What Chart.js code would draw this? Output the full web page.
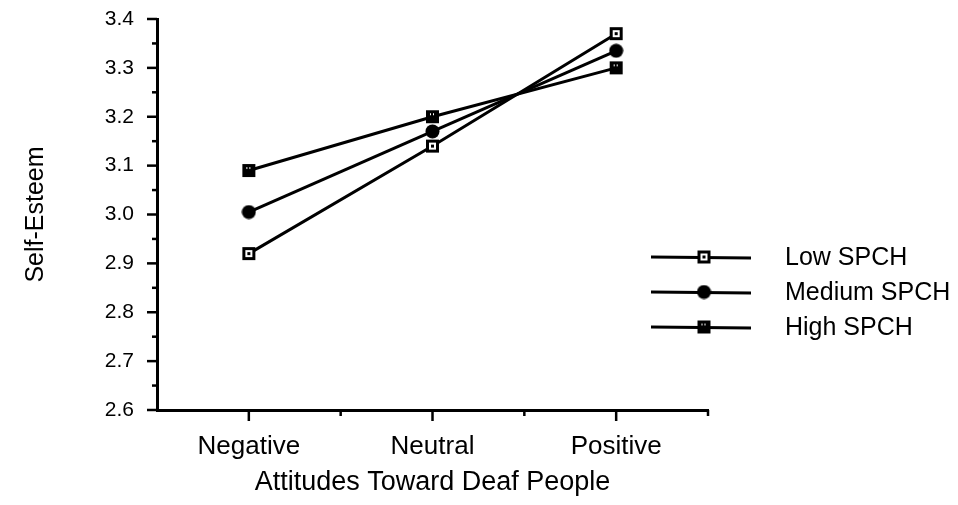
<!DOCTYPE html>
<html>
<head>
<meta charset="utf-8">
<script src="https://cdn.jsdelivr.net/npm/chart.js@4/dist/chart.umd.min.js"></script>
<style>
  html, body { margin: 0; padding: 0; background: #fff; }
  canvas { display: block; }
</style>
</head>
<body>
<canvas id="chart" width="958" height="505"></canvas>
<script>
// Category labels along the x axis
const categories = ['Negative', 'Neutral', 'Positive'];
// Series names
const seriesNames = ['Low SPCH', 'Medium SPCH', 'High SPCH'];
// Mean self-esteem per attitude group
const lowSpch = [2.92, 3.14, 3.37];
const mediumSpch = [3.005, 3.17, 3.335];
const highSpch = [3.09, 3.20, 3.30];
// Labelled y ticks
const yTickValues = [2.6, 2.7, 2.8, 2.9, 3.0, 3.1, 3.2, 3.3, 3.4];

const FONT = '"Liberation Sans", Arial, Helvetica, sans-serif';

// Small bitmap markers used as point styles
function makeMarker(kind) {
  const s = 15;
  const c = document.createElement('canvas');
  c.width = s; c.height = s;
  const g = c.getContext('2d');
  g.fillStyle = '#000';
  if (kind === 'open') {
    g.fillRect(1, 1, 13, 13);
    g.fillStyle = '#fff';
    g.fillRect(4, 4, 7, 7);
    g.fillStyle = '#000';
    g.fillRect(6, 6, 3, 3);
  } else if (kind === 'circle') {
    g.beginPath();
    g.arc(7.5, 7.5, 7, 0, Math.PI * 2);
    g.fill();
  } else {
    g.fillRect(1, 1, 13, 13);
    g.fillStyle = '#fff';
    g.fillRect(5, 4, 1, 2);
    g.fillRect(8, 4, 1, 2);
  }
  return c;
}

const markers = [makeMarker('open'), makeMarker('circle'), makeMarker('filled')];
const seriesValues = [lowSpch, mediumSpch, highSpch];

const datasets = seriesNames.map((name, i) => ({
  label: name,
  data: seriesValues[i],
  borderColor: '#000',
  backgroundColor: '#000',
  borderWidth: 3,
  pointStyle: markers[i],
  pointRadius: 7,
  tension: 0,
  fill: false
}));

// Tick marks on both axes: long at labelled positions, short in between
const axisTicks = {
  id: 'axisTicks',
  afterDraw(chart) {
    const ctx = chart.ctx;
    const xs = chart.scales.x, ys = chart.scales.y;
    const area = chart.chartArea;
    ctx.save();
    ctx.strokeStyle = '#000';
    ctx.lineWidth = 2.5;
    ctx.lineCap = 'butt';
    // y axis
    for (let k = 0; k <= 16; k++) {
      const v = 2.6 + k * 0.05;
      const y = ys.getPixelForValue(v);
      const len = (k % 2 === 0) ? 10 : 5;
      ctx.beginPath();
      ctx.moveTo(area.left - len, y);
      ctx.lineTo(area.left, y);
      ctx.stroke();
    }
    // x axis
    for (let i = 0; i < categories.length; i++) {
      const x = xs.getPixelForValue(i);
      ctx.beginPath();
      ctx.moveTo(x, area.bottom);
      ctx.lineTo(x, area.bottom + 11);
      ctx.stroke();
      if (i < categories.length - 1) {
        const xm = (x + xs.getPixelForValue(i + 1)) / 2;
        ctx.beginPath();
        ctx.moveTo(xm, area.bottom);
        ctx.lineTo(xm, area.bottom + 6);
        ctx.stroke();
      }
    }
    ctx.beginPath();
    ctx.moveTo(area.right, area.bottom);
    ctx.lineTo(area.right, area.bottom + 6);
    ctx.stroke();
    ctx.restore();
  }
};

// Legend to the right of the plot: line sample with marker, then the name
const sideLegend = {
  id: 'sideLegend',
  afterDraw(chart) {
    const ctx = chart.ctx;
    ctx.save();
    chart.data.datasets.forEach((ds, i) => {
      const y = 257 + i * 35;
      ctx.strokeStyle = '#000';
      ctx.lineWidth = 3;
      ctx.beginPath();
      ctx.moveTo(651, y);
      ctx.lineTo(751, y + 1);
      ctx.stroke();
      const img = ds.pointStyle;
      ctx.drawImage(img, 704 - img.width / 2, y - img.height / 2);
      ctx.fillStyle = '#000';
      ctx.font = '25px ' + FONT;
      ctx.textBaseline = 'middle';
      ctx.textAlign = 'left';
      ctx.fillText(ds.label, 785, y + 1);
    });
    ctx.restore();
  }
};

new Chart(document.getElementById('chart'), {
  type: 'line',
  data: { labels: categories, datasets },
  plugins: [axisTicks, sideLegend],
  options: {
    responsive: false,
    devicePixelRatio: 1,
    animation: false,
    layout: { padding: { left: 0, top: 19, right: 250, bottom: 0 } },
    plugins: { legend: { display: false }, tooltip: { enabled: false } },
    scales: {
      x: {
        type: 'category',
        offset: true,
        grid: { display: false, drawTicks: false },
        border: { display: true, color: '#000', width: 3 },
        ticks: { color: '#000', font: { family: FONT, size: 26 }, padding: 21, maxRotation: 0 },
        title: {
          display: true,
          text: 'Attitudes Toward Deaf People',
          color: '#000',
          font: { family: FONT, size: 27 },
          padding: { top: 0, bottom: 6 }
        },
        afterFit(scale) { scale.height = 95; scale.paddingLeft = 0; scale.paddingRight = 0; }
      },
      y: {
        min: 2.6,
        max: 3.4,
        grid: { display: false, drawTicks: false },
        border: { display: true, color: '#000', width: 3 },
        afterBuildTicks(scale) { scale.ticks = yTickValues.map(v => ({ value: v })); },
        ticks: {
          color: '#000',
          font: { family: FONT, size: 21 },
          padding: 23,
          callback: v => Number(v).toFixed(1)
        },
        title: {
          display: true,
          text: 'Self-Esteem',
          color: '#000',
          font: { family: FONT, size: 25 },
          padding: { top: 21, bottom: 0 }
        },
        afterFit(scale) { scale.width = 157; scale.paddingTop = 0; scale.paddingBottom = 0; }
      }
    }
  }
});
</script>
</body>
</html>
